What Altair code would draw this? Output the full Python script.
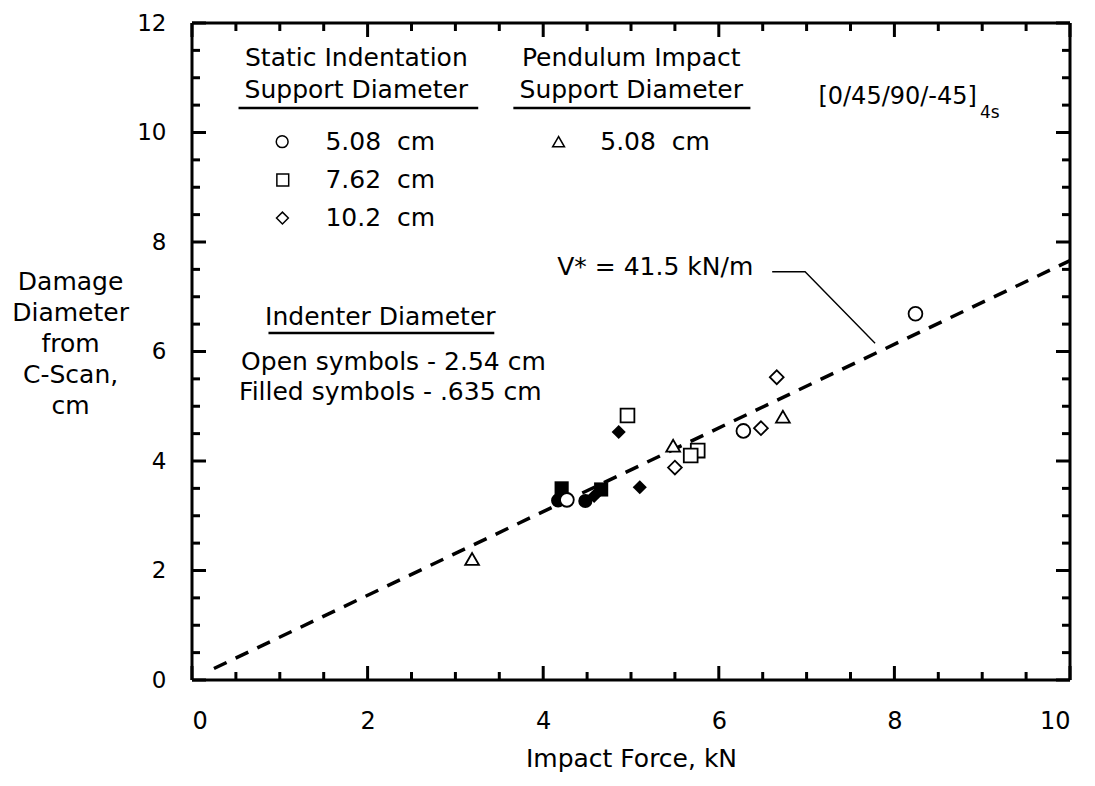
import altair as alt
import pandas as pd
import numpy as np

FONT = "DejaVu Sans"

# ---------------- data ----------------
open_circle_x = [8.24, 6.28, 4.27]
open_circle_y = [6.69, 4.55, 3.29]
open_square_x = [4.96, 5.76, 5.68]
open_square_y = [4.83, 4.19, 4.10]
open_diamond_x = [6.66, 6.48, 5.50]
open_diamond_y = [5.53, 4.60, 3.88]
open_triangle_x = [6.73, 5.48, 3.19]
open_triangle_y = [4.81, 4.28, 2.21]

filled_circle_x = [4.17, 4.48]
filled_circle_y = [3.28, 3.27]
filled_square_x = [4.21, 4.66]
filled_square_y = [3.50, 3.48]
filled_diamond_x = [4.86, 5.10, 4.58]
filled_diamond_y = [4.53, 3.52, 3.36]

fit_x = [0.25, 10.0]
fit_y = [0.21, 7.66]

x_tick_labels = [0, 2, 4, 6, 8, 10]
y_tick_labels = [0, 2, 4, 6, 8, 10, 12]


def pts(xs, ys, shape):
    return pd.DataFrame({"x": xs, "y": ys, "shape": shape})


open_df = pd.concat([
    pts(open_circle_x, open_circle_y, "circle"),
    pts(open_square_x, open_square_y, "square"),
    pts(open_diamond_x, open_diamond_y, "diamond"),
    pts(open_triangle_x, open_triangle_y, "triangle-up"),
])
filled_df = pd.concat([
    pts(filled_circle_x, filled_circle_y, "circle"),
    pts(filled_square_x, filled_square_y, "square"),
    pts(filled_diamond_x, filled_diamond_y, "diamond"),
])

W, H = 878, 657
xs = alt.Scale(domain=[0, 10], nice=False, zero=False)
ys = alt.Scale(domain=[0, 12], nice=False, zero=False)

x_axis = alt.Axis(
    values=x_tick_labels, title="Impact Force, kN", grid=False, domain=False,
    ticks=False, tickSize=0, labelPadding=41, labelBaseline="middle",
    labelFont=FONT, labelFontSize=24, labelColor="black",
    titleFont=FONT, titleFontSize=25, titleFontWeight="normal",
    titleY=78, titleBaseline="middle", titleColor="black")
y_axis = alt.Axis(
    values=y_tick_labels, title=None, grid=False, domain=False,
    ticks=False, tickSize=0, labelPadding=26, labelBaseline="middle",
    labelFont=FONT, labelFontSize=23, labelColor="black")


def X(f="x"):
    return alt.X(f"{f}:Q", scale=xs, axis=x_axis, title="Impact Force, kN")


def Y(f="y"):
    return alt.Y(f"{f}:Q", scale=ys, axis=y_axis, title=None)


# ---------------- frame ----------------
frame = [
    alt.Chart().mark_rule(color="black", strokeWidth=3).encode(
        x=alt.value(0), x2=alt.value(W), y=alt.value(0)),
    alt.Chart().mark_rule(color="black", strokeWidth=3).encode(
        x=alt.value(0), x2=alt.value(W), y=alt.value(H)),
    alt.Chart().mark_rule(color="black", strokeWidth=3).encode(
        y=alt.value(0), y2=alt.value(H), x=alt.value(0)),
    alt.Chart().mark_rule(color="black", strokeWidth=3).encode(
        y=alt.value(0), y2=alt.value(H), x=alt.value(W)),
]

# ---------------- inward ticks ----------------
x_major = np.arange(0, 10.01, 2.0)
x_minor = np.array([v for v in np.arange(0, 10.01, 0.5) if v % 2 != 0])
y_major = np.arange(0, 12.01, 2.0)
y_minor = np.array([v for v in np.arange(0, 12.01, 0.5) if v % 2 != 0])

ticks = []
for vals, ln in [(x_major, 14), (x_minor, 8)]:
    d = pd.DataFrame({"x": vals})
    ticks.append(alt.Chart(d).mark_rule(color="black", strokeWidth=3).encode(
        x=X(), y=alt.value(H), y2=alt.value(H - ln)))
    ticks.append(alt.Chart(d).mark_rule(color="black", strokeWidth=3).encode(
        x=X(), y=alt.value(0), y2=alt.value(ln)))
for vals, ln in [(y_major, 14), (y_minor, 8)]:
    d = pd.DataFrame({"y": vals})
    ticks.append(alt.Chart(d).mark_rule(color="black", strokeWidth=3).encode(
        y=Y(), x=alt.value(0), x2=alt.value(ln)))
    ticks.append(alt.Chart(d).mark_rule(color="black", strokeWidth=3).encode(
        y=Y(), x=alt.value(W), x2=alt.value(W - ln)))

# ---------------- fit line ----------------
fit = alt.Chart(pd.DataFrame({"x": fit_x, "y": fit_y})).mark_line(
    color="black", strokeWidth=3.5, strokeDash=[14, 10]).encode(x=X(), y=Y())

# ---------------- points ----------------
filled_pts = alt.Chart(filled_df).mark_point(
    filled=True, color="black", opacity=1, size=200).encode(
    x=X(), y=Y(), shape=alt.Shape("shape:N", scale=None))
open_pts = alt.Chart(open_df).mark_point(
    fill="white", fillOpacity=1, stroke="black", strokeWidth=1.8, opacity=1, size=190).encode(
    x=X(), y=Y(), shape=alt.Shape("shape:N", scale=None))

# ---------------- legend / annotations ----------------
leg_sym = pd.DataFrame({
    "x": [1.027, 1.034, 1.03, 4.175],
    "y": [9.832, 9.132, 8.438, 9.832],
    "shape": ["circle", "square", "diamond", "triangle-up"],
})
legend_syms = alt.Chart(leg_sym).mark_point(
    fill="white", fillOpacity=1, stroke="black", strokeWidth=1.5, opacity=1, size=140).encode(
    x=X(), y=Y(), shape=alt.Shape("shape:N", scale=None))

center_txt = pd.DataFrame({
    "text": ["Static Indentation", "Support Diameter", "Pendulum Impact", "Support Diameter",
             "Indenter Diameter", "Open symbols - 2.54 cm", "Filled symbols - .635 cm"],
    "x": [1.872, 1.872, 5.003, 5.003, 2.145, 2.294, 2.259],
    "y": [11.361, 10.776, 11.361, 10.776, 6.63, 5.808, 5.26],
})
left_txt = pd.DataFrame({
    "text": ["5.08\u00a0 cm", "7.62\u00a0 cm", "10.2\u00a0 cm", "5.08\u00a0 cm", "V* = 41.5 kN/m"],
    "x": [1.52, 1.52, 1.52, 4.65, 4.16],
    "y": [9.832, 9.132, 8.438, 9.832, 7.543],
})
ytitle_txt = pd.DataFrame({
    "text": ["Damage", "Diameter", "from", "C-Scan,", "cm"],
    "x": [-1.383] * 5,
    "y": [7.269, 6.703, 6.137, 5.571, 5.005],
})

txt_kw = dict(font=FONT, fontSize=25, color="black", baseline="middle")
center_layer = alt.Chart(center_txt).mark_text(align="center", **txt_kw).encode(
    x=X(), y=Y(), text="text:N")
left_layer = alt.Chart(left_txt).mark_text(align="left", **txt_kw).encode(
    x=X(), y=Y(), text="text:N")
ytitle_layer = alt.Chart(ytitle_txt).mark_text(align="center", **txt_kw).encode(
    x=X(), y=Y(), text="text:N")

bracket = alt.Chart(pd.DataFrame({"text": ["[0/45/90/-45]"], "x": [8.94], "y": [10.648]})).mark_text(
    align="right", font=FONT, fontSize=24, color="black", baseline="middle").encode(
    x=X(), y=Y(), text="text:N")
subscript = alt.Chart(pd.DataFrame({"text": ["4s"], "x": [8.975], "y": [10.356]})).mark_text(
    align="left", font=FONT, fontSize=17, color="black", baseline="middle").encode(
    x=X(), y=Y(), text="text:N")

underlines = alt.Chart(pd.DataFrame({
    "x": [0.53, 3.66, 0.871], "x2": [3.26, 6.36, 3.443], "y": [10.447, 10.447, 6.338]})).mark_rule(
    color="black", strokeWidth=2.5).encode(x=X(), x2="x2:Q", y=Y())

leader = alt.Chart(pd.DataFrame({"x": [6.608, 6.983, 7.78], "y": [7.457, 7.457, 6.15]})).mark_line(
    color="black", strokeWidth=1.4).encode(x=X(), y=Y())

chart = alt.layer(
    *frame, *ticks, fit, leader, underlines, filled_pts, open_pts, legend_syms,
    center_layer, left_layer, ytitle_layer, bracket, subscript,
).properties(
    width=W, height=H,
    padding={"left": 184, "top": 15, "right": 17, "bottom": 98},
    autosize="none",
).configure_view(
    strokeWidth=0,
).configure(background="white")

chart.save("out.html", embed_options={"renderer": "svg", "actions": False})
